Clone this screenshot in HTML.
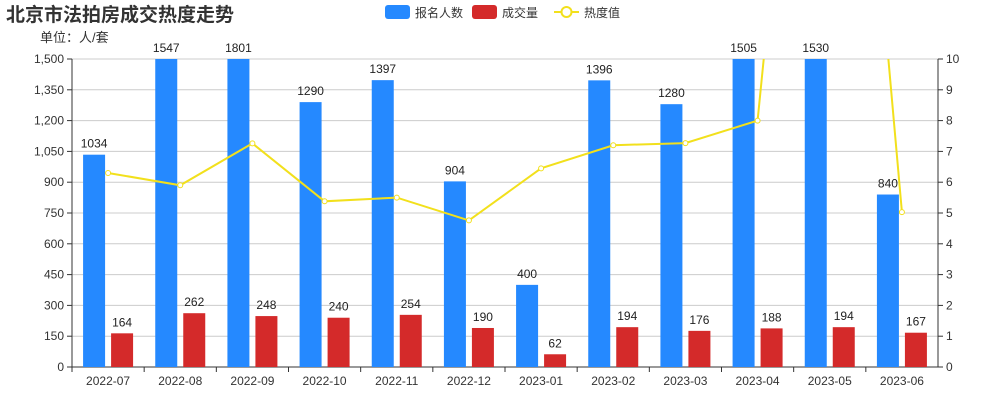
<!DOCTYPE html>
<html><head><meta charset="utf-8"><style>
body{margin:0;background:#fff;font-family:"Liberation Sans","Noto Sans CJK SC",sans-serif}
svg text{font-family:"Liberation Sans","Noto Sans CJK SC",sans-serif}
</style></head><body>
<svg id="c" width="1000" height="400">
<text x="6" y="21" font-size="19" font-weight="bold" fill="#333">北京市法拍房成交热度走势</text>
<text x="40" y="42" font-size="13" fill="#333">单位：人/套</text>
<g>
<rect x="385" y="5" width="25" height="14" rx="3" fill="#2589ff"/>
<text x="415" y="17" font-size="12" fill="#333">报名人数</text>
<rect x="472" y="5" width="25" height="14" rx="3" fill="#d42a2a"/>
<text x="502" y="17" font-size="12" fill="#333">成交量</text>
<line x1="554" y1="12" x2="579" y2="12" stroke="#f2e01c" stroke-width="2"/>
<circle cx="566.5" cy="12" r="5" fill="#fff" stroke="#f2e01c" stroke-width="2"/>
<text x="584" y="17" font-size="12" fill="#333">热度值</text>
</g>
<g id="g"></g>
</svg>
<script>
const categories=["2022-07","2022-08","2022-09","2022-10","2022-11","2022-12","2023-01","2023-02","2023-03","2023-04","2023-05","2023-06"];
const signups=[1034,1547,1801,1290,1397,904,400,1396,1280,1505,1530,840];
const deals=[164,262,248,240,254,190,62,194,176,188,194,167];
const heat=[6.3,5.9,7.26,5.38,5.5,4.76,6.45,7.2,7.27,8.0,31.5,5.03];
const leftTicks=[0,150,300,450,600,750,900,1050,1200,1350,1500];
const rightTicks=[0,1,2,3,4,5,6,7,8,9,10];
const L=72,R=938,T=59,B=367,NS="http://www.w3.org/2000/svg";
const bw=(R-L)/categories.length;
const yL=v=>B-(v/1500)*(B-T), yR=v=>B-(v/10)*(B-T), xc=i=>L+bw*(i+0.5);
const g=document.getElementById('g');
function mk(t,a,txt){const e=document.createElementNS(NS,t);for(const k in a)e.setAttribute(k,a[k]);if(txt!=null)e.textContent=txt;g.appendChild(e);return e;}
const defs=document.createElementNS(NS,'defs');defs.innerHTML='<clipPath id="cp"><rect x="'+L+'" y="'+T+'" width="'+(R-L)+'" height="'+(B-T)+'"/></clipPath>';g.appendChild(defs);
leftTicks.forEach((v,i)=>{
 const y=yL(v);
 if(i>0){const gl=mk('line',{x1:L,x2:R,y1:y,y2:y,stroke:'#ccc'});}
 const t=mk('text',{x:L-8,y:y+4,'font-size':12,fill:'#333','text-anchor':'end'},v.toLocaleString('en-US'));
 
 mk('line',{x1:L-5,x2:L,y1:y,y2:y,stroke:'#333'});
});
rightTicks.forEach(v=>{
 const y=yR(v);
 const t=mk('text',{x:R+8,y:y+4,'font-size':12,fill:'#333'},v);
 
 mk('line',{x1:R,x2:R+5,y1:y,y2:y,stroke:'#333'});
});
let a=mk('line',{x1:L,x2:L,y1:T,y2:B,stroke:'#333'});
a=mk('line',{x1:R,x2:R,y1:T,y2:B,stroke:'#333'});
a=mk('line',{x1:L,x2:R,y1:B,y2:B,stroke:'#333'});
categories.forEach((c,i)=>{
 const x0=L+bw*i;
 mk('line',{x1:x0,x2:x0,y1:B,y2:B+5,stroke:'#333'});
 const t=mk('text',{x:xc(i),y:B+18,'font-size':12,fill:'#333','text-anchor':'middle'},c);
 
 const y1=Math.max(yL(signups[i]),T);
 const b1=mk('rect',{x:xc(i)-25,y:y1,width:22,height:B-y1,fill:'#2589ff'});
 
 const l1=mk('text',{x:xc(i)-14,y:Math.max(yL(signups[i]),T)-7,'font-size':12,fill:'#222','text-anchor':'middle'},signups[i]);
 
 const y2=yL(deals[i]);
 const b2=mk('rect',{x:xc(i)+3,y:y2,width:22,height:B-y2,fill:'#d42a2a'});
 
 const l2=mk('text',{x:xc(i)+14,y:y2-7,'font-size':12,fill:'#222','text-anchor':'middle'},deals[i]);
 
});
const lg=document.createElementNS(NS,'g');lg.setAttribute('clip-path','url(#cp)');g.appendChild(lg);
const pl=document.createElementNS(NS,'polyline');
pl.setAttribute('points',heat.map((v,i)=>xc(i)+','+yR(v)).join(' '));
pl.setAttribute('fill','none');pl.setAttribute('stroke','#f2e01c');pl.setAttribute('stroke-width','2');


lg.appendChild(pl);
heat.forEach((v,i)=>{
 const c=document.createElementNS(NS,'circle');
 c.setAttribute('cx',xc(i));c.setAttribute('cy',yR(v));c.setAttribute('r',2.5);
 c.setAttribute('fill','#fff');c.setAttribute('stroke','#f2e01c');
 
 
 lg.appendChild(c);
});
</script>
</body></html>
